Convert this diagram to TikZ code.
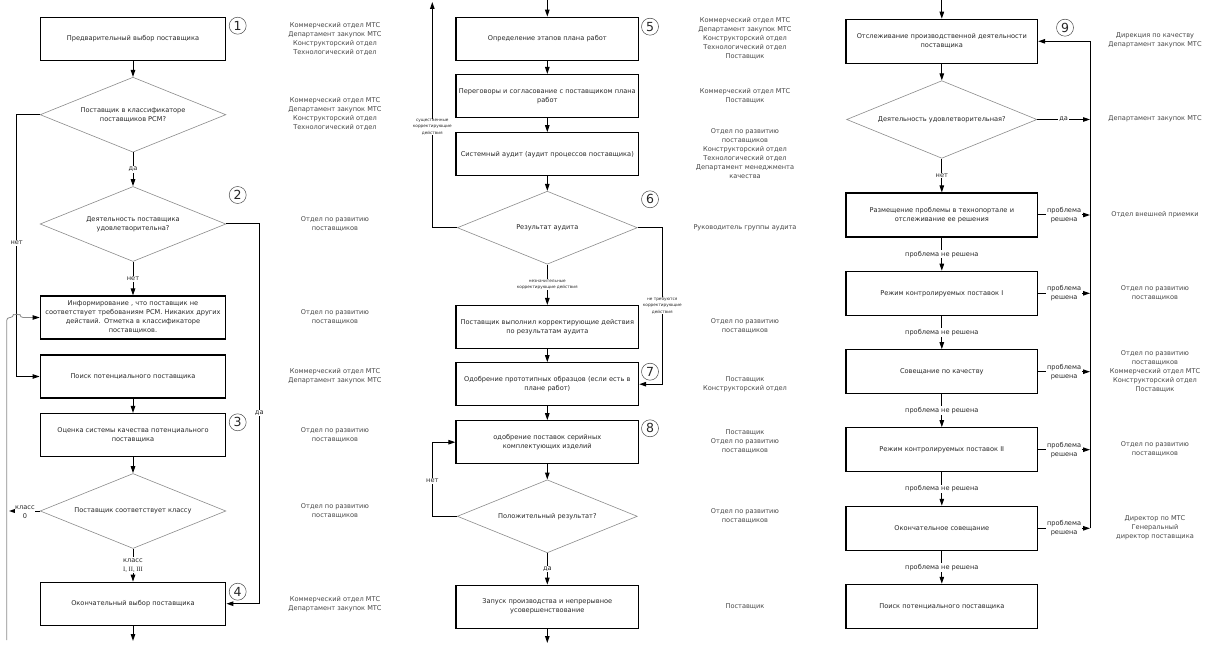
\documentclass[tikz,border=0pt]{standalone}
\usepackage{fontspec}
\setmainfont{DejaVu Sans}
\newfontfamily\serifroman{Liberation Serif}
\usetikzlibrary{shapes.geometric,arrows.meta}
\newcommand\mainfs{\fontsize{6.6pt}{9pt}\selectfont}
\newcommand\tinyfs{\fontsize{4.2pt}{6.3pt}\selectfont}
\newcommand\numfs{\fontsize{12.5pt}{12.5pt}\selectfont}
\begin{document}
\begin{tikzpicture}[x=1pt,y=-1pt,
  box/.style={draw=black, line width=1.1pt, minimum height=43pt, text width=181pt, align=center, inner sep=0pt, font=\mainfs, text=black!85},
  wa/.style={minimum width=185.7pt},
  wb/.style={minimum width=182.7pt},
  wc/.style={minimum width=191.7pt, minimum height=44pt},
  dia/.style={draw=black!45, line width=0.6pt, shape=diamond, aspect=2.47, inner sep=0pt, align=center, font=\mainfs, text=black!85},
  da/.style={minimum width=185.7pt, minimum height=75pt},
  db/.style={minimum width=180pt, minimum height=73pt},
  dc/.style={minimum width=190.3pt, minimum height=77.6pt},
  arr/.style={draw=black, line width=1pt, -{Triangle[length=7pt,width=4.5pt]}},
  lbl/.style={fill=white, inner sep=1pt, font=\mainfs, align=center, text=black!85},
  tinylbl/.style={fill=white, inner sep=0.5pt, font=\tinyfs, align=center, text=black!85},
  note/.style={font=\mainfs, text=black!72, align=center, inner sep=0pt},
  num/.style={circle, draw=black!70, line width=0.5pt, minimum size=17pt, inner sep=0pt, font=\numfs, text=black!85}
]
\fill[white] (0,0) rectangle (1218,652);
\useasboundingbox (0,0) rectangle (1218,652);

% ---------- column 1 ----------
\node[box,wa] (b1) at (133,38.8) {Предварительный выбор поставщика};
\node[dia,da] (d1) at (133,114.7) {Поставщик в классификаторе\\поставщиков РСМ?};
\node[dia,da] (d2) at (133,224) {Деятельность поставщика\\удовлетворительна?};
\node[box,wa] (b2) at (133,317.5) {Информирование , что поставщик не\\соответствует требованиям РСМ. Никаких других\\действий. Отметка в классификаторе\\поставщиков.};
\node[box,wa] (b3) at (133,376.5) {Поиск потенциального поставщика};
\node[box,wa] (b4) at (133,435) {Оценка системы качества потенциального\\поставщика};
\node[dia,da] (d4) at (133,511) {Поставщик соответствует классу};
\node[box,wa] (b5) at (133,603.7) {Окончательный выбор поставщика};
\coordinate (e1) at (133,641);
\coordinate (xl) at (16.7,0);
\coordinate (xr) at (259.3,0);
\coordinate (c0) at (9,511);
\coordinate (g0) at (6.7,640);

\draw[arr] (b1) -- (d1);
\draw[arr] (d1) -- (d2) node[lbl,midway] {да};
\draw[arr] (d2) -- (b2) node[lbl,midway] {нет};
\draw[arr] (b3) -- (b4);
\draw[arr] (b4) -- (d4);
\draw[arr] (d4) -- (b5) node[lbl,midway] {класс\\{\serifroman I, II, III}};
\draw[arr] (b5) -- (e1);
\draw[arr] (d1.west) -- (d1.west -| xl) -- (b3.west -| xl) -- (b3.west);
\node[lbl] at (16.7,243) {нет};
\draw[arr] (d2.east) -- (d2.east -| xr) -- (b5.east -| xr) -- (b5.east);
\node[lbl] at (259.3,413) {да};
\draw[arr] (d4.west) -- (c0);
\node[lbl,inner sep=0pt] at (25,512) {класс\\0};
\draw[black!45, line width=0.8pt, rounded corners=3pt, -{Triangle[length=7pt,width=4.5pt,black]}]
  (g0) -- (6.7,317.5) -- (13.4,317.5) arc[start angle=180,end angle=360,radius=3.3] -- (b2.west);

\node[num] at (237.7,25.7) {1};
\node[num] at (237.7,195) {2};
\node[num] at (237.7,422.3) {3};
\node[num] at (237.7,591.7) {4};

\node[note] at (335,38.7) {Коммерческий отдел МТС\\Департамент закупок МТС\\Конструкторский отдел\\Технологический отдел};
\node[note] at (335,113.8) {Коммерческий отдел МТС\\Департамент закупок МТС\\Конструкторский отдел\\Технологический отдел};
\node[note] at (335,223.8) {Отдел по развитию\\поставщиков};
\node[note] at (335,317) {Отдел по развитию\\поставщиков};
\node[note] at (335,376.3) {Коммерческий отдел МТС\\Департамент закупок МТС};
\node[note] at (335,434.7) {Отдел по развитию\\поставщиков};
\node[note] at (335,511) {Отдел по развитию\\поставщиков};
\node[note] at (335,604) {Коммерческий отдел МТС\\Департамент закупок МТС};

% ---------- column 2 ----------
\node[box,wb] (b6) at (547.3,38.7) {Определение этапов плана работ};
\node[box,wb] (b7) at (547.3,96) {Переговоры и согласование с поставщиком плана\\работ};
\node[box,wb] (b8) at (547.3,154.2) {Системный аудит (аудит процессов поставщика)};
\node[dia,db] (d6) at (547.3,227.7) {Результат аудита};
\node[box,wb] (b9) at (547.3,327) {Поставщик выполнил корректирующие действия\\по результатам аудита};
\node[box,wb] (b10) at (547.3,384.2) {Одобрение прототипных образцов (если есть в\\плане работ)};
\node[box,wb] (b11) at (547.3,442.2) {одобрение поставок серийных\\комплектующих изделий};
\node[dia,db] (d8) at (547.3,516.3) {Положительный результат?};
\node[box,wb] (b12) at (547.3,606.7) {Запуск производства и непрерывное\\усовершенствование};
\coordinate (t2) at (547.3,0);
\coordinate (e2) at (547.3,643);
\coordinate (xl2) at (432.3,0);
\coordinate (t2l) at (432.3,2);
\coordinate (xr2) at (662.3,0);

\draw[arr] (t2) -- (b6);
\draw[arr] (b6) -- (b7);
\draw[arr] (b7) -- (b8);
\draw[arr] (b8) -- (d6);
\draw[arr] (d6) -- (b9) node[tinylbl,midway] {незначительные\\корректирующие действия};
\draw[arr] (b9) -- (b10);
\draw[arr] (b10) -- (b11);
\draw[arr] (b11) -- (d8);
\draw[arr] (d8) -- (b12) node[lbl,midway] {да};
\draw[arr] (b12) -- (e2);
\draw[arr] (d6.west) -- (d6.west -| xl2) -- (t2l);
\node[tinylbl] at (432.3,127) {существенные\\корректирующие\\действия};
\draw[arr] (d6.east) -- (d6.east -| xr2) -- (b10.east -| xr2) -- (b10.east);
\node[tinylbl] at (662.3,305.5) {не требуются\\корректирующие\\действия};
\draw[arr] (d8.west) -- (d8.west -| xl2) -- (b11.west -| xl2) -- (b11.west);
\node[lbl] at (432.3,480.7) {нет};

\node[num] at (650,26.7) {5};
\node[num] at (650,199.3) {6};
\node[num] at (650,371.7) {7};
\node[num] at (650,428.3) {8};

\node[note] at (745,38.3) {Коммерческий отдел МТС\\Департамент закупок МТС\\Конструкторский отдел\\Технологический отдел\\Поставщик};
\node[note] at (745,95.5) {Коммерческий отдел МТС\\Поставщик};
\node[note] at (745,153.7) {Отдел по развитию\\поставщиков\\Конструкторский отдел\\Технологический отдел\\Департамент менеджмента\\качества};
\node[note] at (745,227.7) {Руководитель группы аудита};
\node[note] at (745,326.2) {Отдел по развитию\\поставщиков};
\node[note] at (745,383.8) {Поставщик\\Конструкторский отдел};
\node[note] at (745,441.8) {Поставщик\\Отдел по развитию\\поставщиков};
\node[note] at (745,515.8) {Отдел по развитию\\поставщиков};
\node[note] at (745,606.7) {Поставщик};

% ---------- column 3 ----------
\node[box,wc] (b13) at (941.8,41.3) {Отслеживание производственной деятельности\\поставщика};
\node[dia,dc] (d9) at (941.8,119.5) {Деятельность удовлетворительная?};
\node[box,wc] (b14) at (941.8,215) {Размещение проблемы в технопортале и\\отслеживание ее решения};
\node[box,wc] (b15) at (941.8,293.3) {Режим контролируемых поставок I};
\node[box,wc] (b16) at (941.8,371.7) {Совещание по качеству};
\node[box,wc] (b17) at (941.8,449.7) {Режим контролируемых поставок II};
\node[box,wc] (b18) at (941.8,528.3) {Окончательное совещание};
\node[box,wc] (b19) at (941.8,606.3) {Поиск потенциального поставщика};
\coordinate (t3) at (941.8,0);
\coordinate (xv) at (1090,0);

\draw[arr] (t3) -- (b13);
\draw[arr] (b13) -- (d9);
\draw[arr] (d9) -- (b14) node[lbl,midway] {нет};
\draw[arr] (b14) -- (b15) node[lbl,midway] {проблема не решена};
\draw[arr] (b15) -- (b16) node[lbl,midway] {проблема не решена};
\draw[arr] (b16) -- (b17) node[lbl,midway] {проблема не решена};
\draw[arr] (b17) -- (b18) node[lbl,midway] {проблема не решена};
\draw[arr] (b18) -- (b19) node[lbl,midway] {проблема не решена};
\draw[arr] (b18.east -| xv) -- (b13.east -| xv) -- (b13.east);
\draw[arr] (d9.east) -- (d9.east -| xv) node[lbl,midway] {да};
\draw[arr] (b14.east) -- (b14.east -| xv) node[lbl,midway] {проблема\\решена};
\draw[arr] (b15.east) -- (b15.east -| xv) node[lbl,midway] {проблема\\решена};
\draw[arr] (b16.east) -- (b16.east -| xv) node[lbl,midway] {проблема\\решена};
\draw[arr] (b17.east) -- (b17.east -| xv) node[lbl,midway] {проблема\\решена};
\draw[arr] (b18.east) -- (b18.east -| xv) node[lbl,midway] {проблема\\решена};

\node[num] at (1065,27.7) {9};

\node[note] at (1155,40.7) {Дирекция по качеству\\Департамент закупок МТС};
\node[note] at (1155,119) {Департамент закупок МТС};
\node[note] at (1155,215) {Отдел внешней приемки};
\node[note] at (1155,292.8) {Отдел по развитию\\поставщиков};
\node[note] at (1155,372) {Отдел по развитию\\поставщиков\\Коммерческий отдел МТС\\Конструкторский отдел\\Поставщик};
\node[note] at (1155,449.5) {Отдел по развитию\\поставщиков};
\node[note] at (1155,527.8) {Директор по МТС\\Генеральный\\директор поставщика};
\end{tikzpicture}
\end{document}
